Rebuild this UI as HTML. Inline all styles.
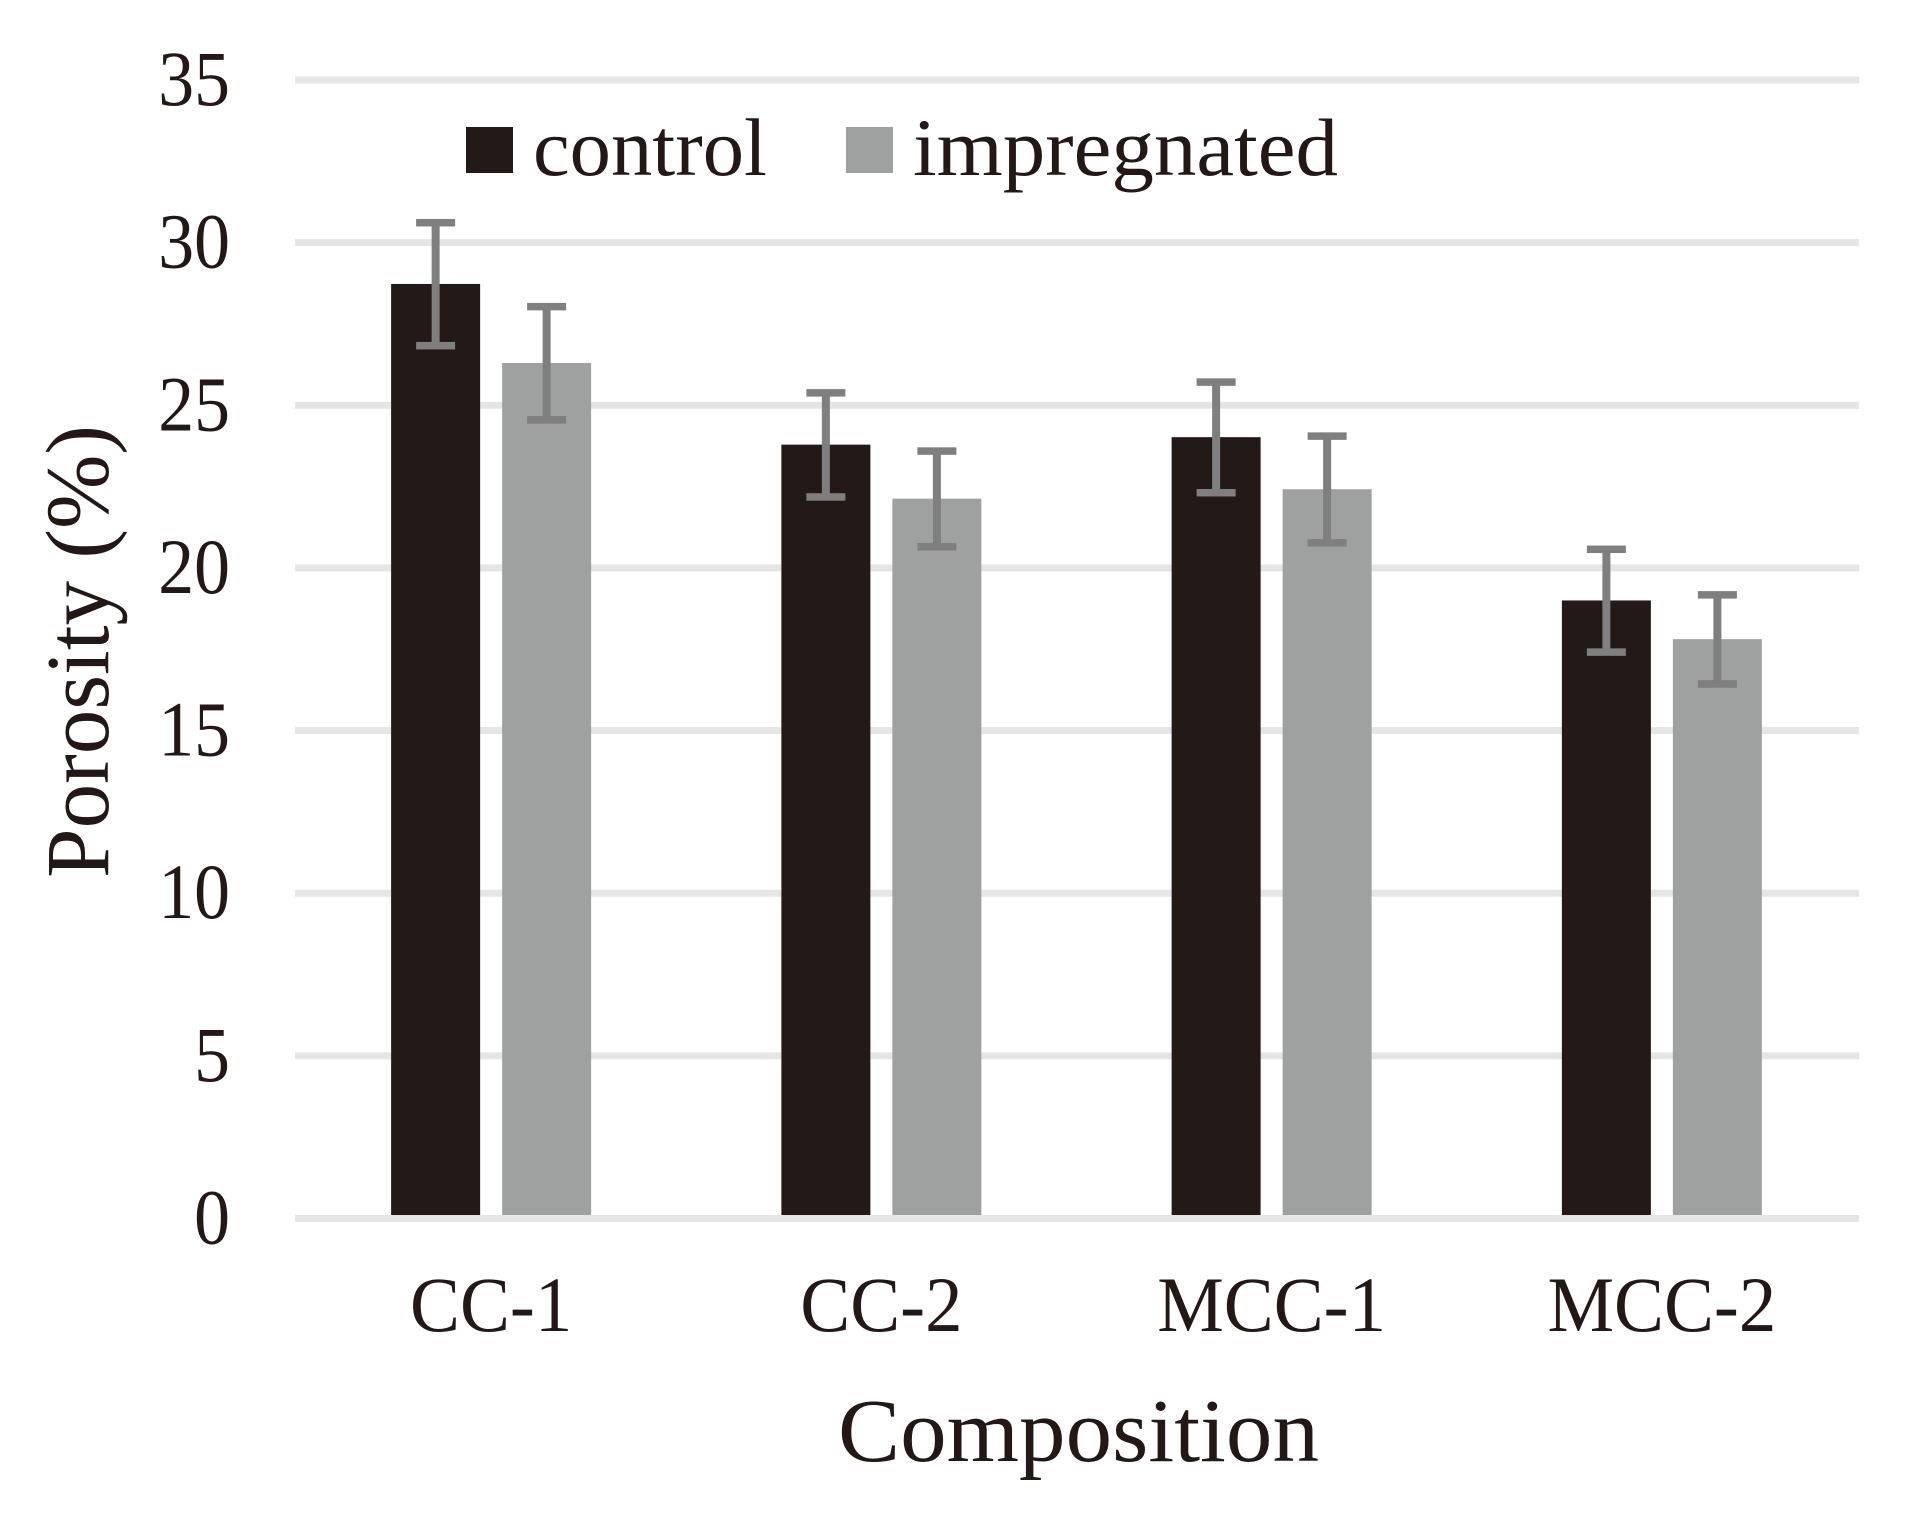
<!DOCTYPE html>
<html lang="en">
<head>
<meta charset="utf-8">
<title>Porosity by composition</title>
<style>
html,body{margin:0;padding:0;background:#fff;}
svg{display:block;}
text{font-family:"Liberation Serif",serif;fill:#231815;}
</style>
</head>
<body>
<svg id="chart" xmlns="http://www.w3.org/2000/svg" width="1926" height="1528" viewBox="0 0 1926 1528">
  <rect x="0" y="0" width="1926" height="1528" fill="#ffffff"/>
  <g id="grid"></g>
  <g id="ticks"></g>
  <g id="bars"></g>
  <g id="errors"></g>
  <g id="baseline"></g>
  <g id="cats"></g>
  <g>
    <rect x="466" y="127" width="47" height="46" fill="#231916"/>
    <text x="533" y="175" font-size="82" textLength="234" lengthAdjust="spacingAndGlyphs">control</text>
    <rect x="846" y="127" width="47" height="46" fill="#9fa1a0"/>
    <text x="913" y="175" font-size="82" textLength="425" lengthAdjust="spacingAndGlyphs">impregnated</text>
  </g>
  <text transform="translate(108,878) rotate(-90)" font-size="90" textLength="453" lengthAdjust="spacingAndGlyphs">Porosity (%)</text>
  <text x="838" y="1461" font-size="90" textLength="481" lengthAdjust="spacingAndGlyphs">Composition</text>
</svg>
<script>
const categories = ['CC-1', 'CC-2', 'MCC-1', 'MCC-2'];
const controlValues = [28.73, 23.79, 24.02, 19.0];
const impregnatedValues = [26.3, 22.13, 22.42, 17.81];
const controlErrors = [1.89, 1.6, 1.7, 1.58];
const impregnatedErrors = [1.74, 1.47, 1.64, 1.37];
const yTicks = [0, 5, 10, 15, 20, 25, 30, 35];

const NS = 'http://www.w3.org/2000/svg';
const plotLeft = 295, plotRight = 1859, yZero = 1218.5, yTop = 80, yMax = 35;
const bandLeft = 296, bandRight = 1857;
const barWidth = 89, barGap = 11;

function yScale(v) { return yZero - (v / yMax) * (yZero - yTop); }
function xBand(i) { return bandLeft + (i + 0.5) * (bandRight - bandLeft) / categories.length; }
function shape(tag, parent, attrs) {
  const el = document.createElementNS(NS, tag);
  for (const k in attrs) el.setAttribute(k, attrs[k]);
  parent.appendChild(el);
  return el;
}

const gridG = document.getElementById('grid');
const tickG = document.getElementById('ticks');
const barG = document.getElementById('bars');
const errG = document.getElementById('errors');
const baseG = document.getElementById('baseline');
const catG = document.getElementById('cats');

yTicks.forEach(function (t) {
  const line = shape('rect', t === 0 ? baseG : gridG, { x: plotLeft, y: yScale(t) - 3.5, width: plotRight - plotLeft, height: 7, fill: '#e5e5e5' });
  
  
  const label = shape('text', tickG, { transform: 'translate(230,' + (yScale(t) + 25) + ') scale(0.92,1)', 'font-size': 78, 'text-anchor': 'end' });
  label.textContent = String(t);
  
  
});

function drawSeries(name, values, errors, color, side) {
  values.forEach(function (v, i) {
    const c = xBand(i);
    const left = side < 0 ? c - barGap - barWidth : c + barGap;
    const top = yScale(v);
    const bar = shape('rect', barG, { x: left, y: top, width: barWidth, height: yScale(0) - top, fill: color });
    
    

    const mid = left + barWidth / 2;
    const hi = yScale(v + errors[i]);
    const lo = yScale(v - errors[i]);
    const stem = shape('rect', errG, { x: mid - 4, y: hi, width: 8, height: lo - hi, fill: '#7f7f7f' });
    
    
    const capTop = shape('rect', errG, { x: mid - 19.5, y: hi - 3.5, width: 39, height: 7.5, fill: '#7f7f7f' });
    
    
    const capLow = shape('rect', errG, { x: mid - 19.5, y: lo - 3.5, width: 39, height: 7.5, fill: '#7f7f7f' });
    
    
  });
}
drawSeries('control', controlValues, controlErrors, '#231916', -1);
drawSeries('impregnated', impregnatedValues, impregnatedErrors, '#9fa1a0', 1);

categories.forEach(function (name, i) {
  const label = shape('text', catG, { transform: 'translate(' + xBand(i) + ',1331) scale(0.96,1)', 'font-size': 78, 'text-anchor': 'middle' });
  label.textContent = name;
  
  
});
</script>
</body>
</html>
